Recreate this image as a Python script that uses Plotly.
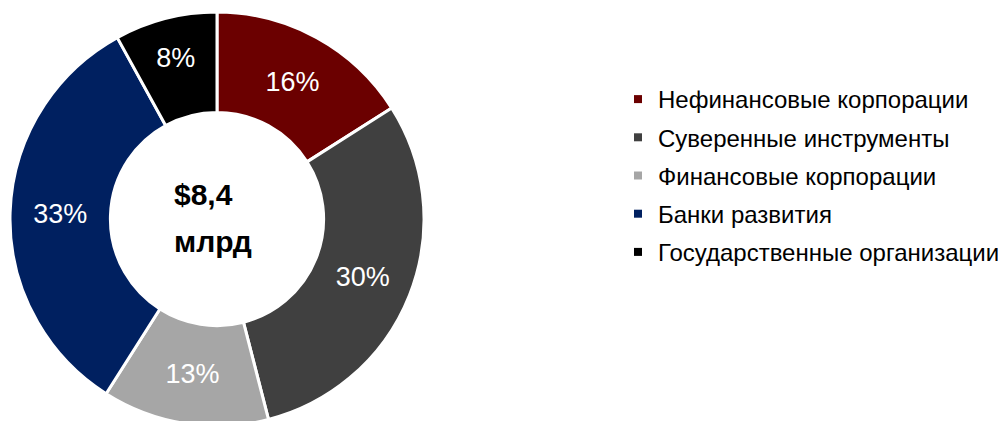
import plotly.graph_objects as go

categories = ["Нефинансовые корпорации", "Суверенные инструменты", "Финансовые корпорации",
              "Банки развития", "Государственные организации"]
shares = [16, 30, 13, 33, 8]
colors = ["#6B0000", "#404040", "#A6A6A6", "#002060", "#000000"]
total_line1 = "$8,4"
total_line2 = "млрд"

W, H = 1006, 421
OFF = 8  # page body margin offset (px)
FONT = "Liberation Sans, Arial, sans-serif"


def px_x(x):
    return (x - OFF) / W


def px_y(y):
    return (H - (y - OFF)) / H


fig = go.Figure()

fig.add_trace(go.Pie(
    labels=categories,
    values=shares,
    sort=False,
    direction="clockwise",
    rotation=0,
    hole=0.515,
    marker=dict(colors=colors, line=dict(color="white", width=3)),
    textinfo="percent",
    texttemplate="%{percent:.0%}",
    textposition="inside",
    insidetextorientation="horizontal",
    textfont=dict(family=FONT, size=27, color="white"),
    domain=dict(x=[2 / W, 416 / W], y=[3 / H, 417 / H]),
    hoverinfo="label+percent",
    showlegend=False,
))

# legend entries (one group per category so spacing can be set)
for cat, col in zip(categories, colors):
    fig.add_trace(go.Scatter(
        x=[None], y=[None], mode="markers",
        marker=dict(symbol="square", size=8, color=col),
        name=cat, legendgroup=cat, showlegend=True, hoverinfo="skip",
    ))

fig.add_annotation(
    text="<b>" + total_line1 + "</b>",
    xref="paper", yref="paper",
    x=px_x(172), y=px_y(194),
    xanchor="left", yanchor="middle",
    align="left", showarrow=False,
    font=dict(family=FONT, size=30, color="black"),
)
fig.add_annotation(
    text="<b>" + total_line2 + "</b>",
    xref="paper", yref="paper",
    x=px_x(172), y=px_y(241),
    xanchor="left", yanchor="middle",
    align="left", showarrow=False,
    font=dict(family=FONT, size=30, color="black"),
)

fig.update_layout(
    width=W, height=H,
    margin=dict(l=0, r=0, t=0, b=0),
    paper_bgcolor="white", plot_bgcolor="white",
    font=dict(family=FONT, color="black"),
    xaxis=dict(visible=False),
    yaxis=dict(visible=False),
    legend=dict(
        x=px_x(618), y=px_y(77),
        xanchor="left", yanchor="top",
        font=dict(family=FONT, size=24, color="black"),
        itemwidth=30,
        tracegroupgap=4,
        bgcolor="rgba(0,0,0,0)",
    ),
    showlegend=True,
)

fig.write_html("out.html")
